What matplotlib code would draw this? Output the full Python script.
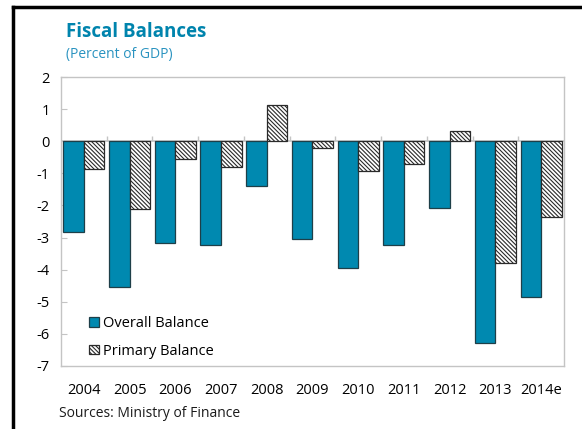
import matplotlib.pyplot as plt
import numpy as np
from matplotlib.lines import Line2D

plt.rcParams['font.family'] = ['Open Sans', 'DejaVu Sans']
plt.rcParams['axes.unicode_minus'] = False
plt.rcParams['hatch.linewidth'] = 0.8
plt.rcParams['hatch.color'] = '#3a3a3a'

years = ['2004', '2005', '2006', '2007', '2008', '2009', '2010', '2011', '2012', '2013', '2014e']
overall = [-2.83, -4.53, -3.18, -3.23, -1.39, -3.03, -3.95, -3.22, -2.07, -6.28, -4.85]
primary = [-0.85, -2.10, -0.54, -0.79, 1.14, -0.22, -0.92, -0.70, 0.31, -3.80, -2.35]

teal = '#0089b0'
grid_grey = '#c4c4c4'

fig = plt.figure(figsize=(5.82, 4.29), dpi=100)
ax = fig.add_axes([0.1048, 0.1469, 0.8642, 0.6736])

x = np.arange(len(years))
w = 0.45
ax.bar(x - w / 2, overall, w, color=teal, edgecolor='#1e3f48', linewidth=0.9,
       label='Overall Balance', zorder=3)
ax.bar(x + w / 2, primary, w, color='white', edgecolor='#2a2a2a', linewidth=0.9,
       hatch='\\\\\\\\\\\\\\\\', label='Primary Balance', zorder=3)

ax.set_xlim(-0.5, len(years) - 0.5)
ax.set_ylim(-7, 2)
ax.set_yticks(range(-7, 3))
ax.set_xticks(x)
ax.set_xticklabels(years)
ax.tick_params(axis='x', length=0, pad=12, labelsize=10.5)
ax.tick_params(axis='y', direction='in', length=4, color=grid_grey, pad=8, labelsize=10.5)
for s in ax.spines.values():
    s.set_color(grid_grey)
    s.set_linewidth(1.0)

# zero line with small ticks between year groups
ax.axhline(0, color=grid_grey, linewidth=1.2, zorder=2)
ax.vlines(x[:-1] + 0.5, 0, 0.16, color=grid_grey, linewidth=1.0, zorder=2)

leg = ax.legend(loc='lower left', bbox_to_anchor=(0.045, 0.005), frameon=False,
                fontsize=10.5, handlelength=0.65, handleheight=0.65,
                handletextpad=0.3, labelspacing=0.85, borderaxespad=0)

fig.text(0.1134, 0.925, 'Fiscal Balances', color='#0084ad', fontsize=13.5,
         fontweight='bold', va='center', ha='left')
fig.text(0.1134, 0.872, '(Percent of GDP)', color='#2a93c0', fontsize=10,
         va='center', ha='left')
fig.text(0.101, 0.036, 'Sources: Ministry of Finance', color='#1a1a1a', fontsize=10,
         va='center', ha='left')

# frame lines on the top and left of the figure
fig.add_artist(Line2D([0.022, 1.0], [0.984, 0.984], color='black', linewidth=2.5,
                      transform=fig.transFigure))
fig.add_artist(Line2D([0.022, 0.022], [0.0, 0.984], color='black', linewidth=2.5,
                      transform=fig.transFigure))

fig.savefig('out.png', dpi=100)
